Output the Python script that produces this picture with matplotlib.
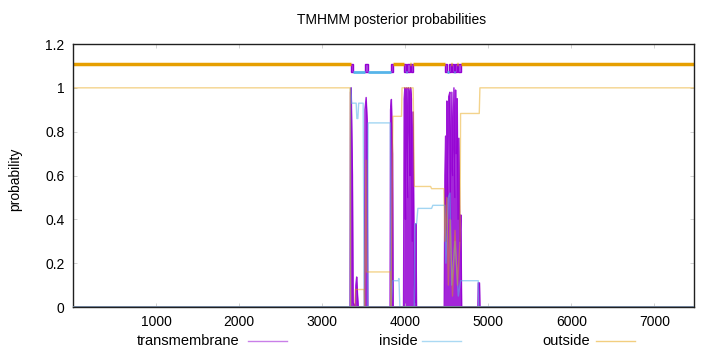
import matplotlib
matplotlib.use("Agg")
import matplotlib.pyplot as plt
from matplotlib.lines import Line2D

plt.rcParams['font.family'] = ['Liberation Sans', 'DejaVu Sans']

seq_len = 7478

# posterior probability curves as (residue, value) points
tm_pos = [1, 3335, 3342, 3350, 3365, 3373, 3400, 3406, 3416, 3427, 3435, 3510, 3516, 3530,
          3542, 3550, 3818, 3824, 3834, 3848, 3855, 3980, 3988, 3996, 4004, 4012, 4020, 4030,
          4040, 4048, 4058, 4065, 4075, 4085, 4095, 4110, 4125, 4130, 4137, 4145, 4470, 4478,
          4487, 4494, 4502, 4512, 4524, 4538, 4550, 4562, 4572, 4587, 4598, 4607, 4615, 4627,
          4637, 4647, 4658, 4671, 4680, 4875, 4880, 4895, 4900, 7478]
tm_val = [0, 0, 0.98, 1.0, 0.6, 0.02, 0.0, 0.10, 0.137, 0.05, 0.0, 0.0, 0.9, 0.956,
          0.85, 0.0, 0.0, 0.9, 0.947, 0.7, 0.0, 0.0, 0.95, 1.0, 0.4, 0.99, 1.0, 0.5,
          1.0, 0.98, 0.6, 1.0, 0.95, 0.3, 0.89, 0.1, 0.02, 0.38, 0.0, 0.0, 0.0, 0.6,
          0.78, 0.3, 0.94, 0.5, 0.96, 0.98, 0.4, 0.98, 0.6, 1.0, 0.5, 0.99, 0.7, 0.95,
          0.4, 0.77, 0.3, 0.42, 0.0, 0.0, 0.11, 0.11, 0.0, 0.0]

inside_pos = [1, 3338, 3342, 3348, 3355, 3410, 3418, 3430, 3440, 3494, 3506, 3548, 3554,
              3820, 3824, 3830, 3850, 3915, 3925, 3936, 4110, 4117, 4137, 4153, 4318, 4333,
              4478, 4490, 4520, 4540, 4560, 4600, 4640, 4667, 4880, 4885, 7478]
inside_val = [0, 0, 1.0, 0.96, 0.93, 0.93, 0.86, 0.86, 0.93, 0.93, 0.0, 0.0, 0.84,
              0.84, 0.55, 0.0, 0.12, 0.12, 0.13, 0.0, 0.0, 0.38, 0.38, 0.45, 0.45, 0.464,
              0.464, 0.2, 0.5, 0.52, 0.1, 0.3, 0.05, 0.12, 0.12, 0.0, 0.0]

outside_pos = [1, 3337, 3342, 3395, 3400, 3506, 3512, 3528, 3535, 3824, 3830, 3852, 3956,
               3962, 4096, 4110, 4306, 4318, 4466, 4478, 4500, 4520, 4540, 4570, 4600, 4630,
               4660, 4667, 4892, 4900, 7478]
outside_val = [1.0, 1.0, 0.0, 0.0, 0.08, 0.08, 0.0, 0.67, 0.16, 0.16, 0.0, 0.87, 0.87,
               1.0, 1.0, 0.55, 0.55, 0.54, 0.54, 0.3, 0.5, 0.1, 0.4, 0.05, 0.35, 0.1,
               0.3, 0.883, 0.883, 1.0, 1.0]

# predicted topology drawn above the curves
topo_start = [1, 3349, 3370, 3511, 3554, 3828, 3852, 3988, 4012, 4022, 4055, 4065, 4093,
              4478, 4502, 4522, 4546, 4562, 4587, 4598, 4622, 4635, 4671]
topo_end = [3349, 3370, 3511, 3554, 3828, 3852, 3988, 4012, 4022, 4055, 4065, 4093, 4478,
            4502, 4522, 4546, 4562, 4587, 4598, 4622, 4635, 4671, 7478]
topo_kind = ['o', 'M', 'i', 'M', 'i', 'M', 'o', 'M', 'i', 'M', 'o', 'M', 'o',
             'M', 'i', 'M', 'o', 'M', 'i', 'M', 'o', 'M', 'o']

purple = '#9400d3'
blue = '#56b4e9'
orange = '#e69f00'

fig = plt.figure(figsize=(7.2, 3.52), dpi=100)
ax = fig.add_axes([0.1014, 0.1278, 0.8625, 0.7472])

ax.fill_between(tm_pos, tm_val, 0, color=purple, alpha=0.85, lw=0)
ax.plot(tm_pos, tm_val, color=purple, lw=1, alpha=0.9)
ax.plot(inside_pos, inside_val, color=blue, lw=1, alpha=0.55)
ax.plot(outside_pos, outside_val, color=orange, lw=1, alpha=0.45)
ax.axhline(0, color='#6f8494', lw=2, zorder=5)

for s, e, k in zip(topo_start, topo_end, topo_kind):
    if k == 'o':
        ax.plot([s, e], [1.11, 1.11], color=orange, lw=2.5, solid_capstyle='butt')
    elif k == 'i':
        ax.plot([s, e], [1.073, 1.073], color=blue, lw=2, solid_capstyle='butt')
    else:
        ax.bar(s, 0.04, width=e - s, bottom=1.07, align='edge',
               facecolor='#b050e0', edgecolor=purple, lw=1)

ax.set_xlim(0, seq_len)
ax.set_ylim(0, 1.2)
ax.set_xticks([1000, 2000, 3000, 4000, 5000, 6000, 7000])
ax.set_yticks([0, 0.2, 0.4, 0.6, 0.8, 1, 1.2])
ax.set_yticklabels(['0', '0.2', '0.4', '0.6', '0.8', '1', '1.2'])
ax.tick_params(direction='in', top=True, right=True, length=3, width=0.5,
               colors='#c0c0c0', labelcolor='black', labelsize=10, pad=6)
for sp in ax.spines.values():
    sp.set_linewidth(1)
    sp.set_color('#202020')

fig.text(0.544, 0.943, 'TMHMM posterior probabilities', ha='center', va='center', fontsize=10)
fig.text(0.021, 0.49, 'probability', ha='center', va='center', rotation=90, fontsize=10)

# legend along the bottom, text then sample line
leg_labels = ['transmembrane', 'inside', 'outside']
leg_colors = [purple, blue, orange]
leg_right = [239, 418, 590]
leg_line = [(248, 287), (422, 461), (596, 635)]
yl = 1 - 341 / 352
for lab, c, r, (a, b) in zip(leg_labels, leg_colors, leg_right, leg_line):
    fig.text(r / 720, yl, lab, ha='right', va='center', fontsize=10.5)
    fig.add_artist(Line2D([a / 720, b / 720], [yl, yl], color=c, lw=1, alpha=0.5))

fig.savefig('out.png', dpi=100)
